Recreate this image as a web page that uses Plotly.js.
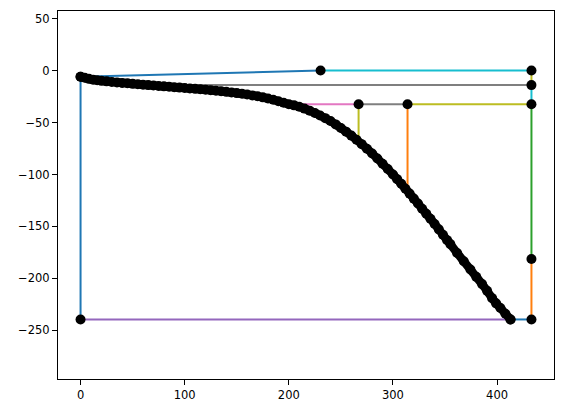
<!DOCTYPE html>
<html>
<head>
<meta charset="utf-8">
<script src="https://cdn.plot.ly/plotly-3.0.1.min.js"></script>
<style>html,body{margin:0;padding:0;background:#fff;}#chart{width:563px;height:413px;}</style>
</head>
<body>
<div id="chart"></div>
<script>
// Black curve
const curveX = [0,4,8,12,16,20,25,30,35,40,45,50,55,60,65,70,75,80,85,90,95,100,105,110,115,120,125,130,135,140,145,150,155,160,165,170,175,180,185,190,195,200,205,210,215,220,225,230,235,240,245,250,255,260,265,270,275,280,285,290,295,300,304,308,312,316,320,324,328,332,336,340,344,348,352,355.1,361.6,368,374.4,380,385.6,390.4,395.2,399,403.2,408,412.9];
const curveY = [-6,-7,-8,-8.8,-9.4,-9.9,-10.4,-10.9,-11.4,-11.9,-12.3,-12.8,-13.2,-13.6,-14,-14.4,-14.8,-15.2,-15.6,-16,-16.4,-16.8,-17.2,-17.6,-18,-18.5,-19,-19.5,-20,-20.5,-21.1,-21.7,-22.4,-23.1,-23.9,-24.8,-25.8,-26.9,-28.1,-29.5,-31,-32.4,-33.5,-34.8,-36.6,-38.6,-40.8,-43.2,-45.8,-48.6,-51.8,-55.2,-58.8,-62.6,-66.6,-70.8,-75.2,-79.8,-84.6,-89.6,-94.8,-100,-104.5,-109,-113.7,-118.4,-123.2,-128,-132.9,-137.8,-142.6,-147.6,-152.8,-158,-163.2,-167,-175.5,-183.5,-191.5,-198.5,-205.5,-212,-219,-224,-228.5,-234,-239.5];

// Marked points
const dotX = [230.5,433,433,433,314,267,433,433,0,412.9,0];
const dotY = [0,0,-14,-32.5,-32.5,-32.5,-181.4,-239.5,-239.5,-239.5,-6];

// Connecting segments: start and end coordinates
const segX1 = [0,230.5,433,433,433,433,314,267,267,314,433,433,433,412.9,0];
const segY1 = [-6,0,0,-14,-14,-32.5,-32.5,-32.5,-32.5,-32.5,-32.5,-181.4,-239.5,-239.5,-239.5];
const segX2 = [230.5,433,433,65,433,314,267,200,267,314,433,433,412.9,0,0];
const segY2 = [0,0,-14,-14,-32.5,-32.5,-32.5,-32.5,-68.3,-116,-181.4,-239.5,-239.5,-239.5,-6];
const segColor = ['#1f77b4','#17becf','#bcbd22','#7f7f7f','#17becf','#bcbd22','#7f7f7f','#e377c2','#bcbd22','#ff7f0e','#2ca02c','#ff7f0e','#1f77b4','#9467bd','#1f77b4'];

const traces = [];
for (let i = 0; i < segX1.length; i++) {
  traces.push({x:[segX1[i], segX2[i]], y:[segY1[i], segY2[i]], mode:'lines', type:'scatter',
    line:{color:segColor[i], width:2}, hoverinfo:'skip', showlegend:false});
}
traces.push({x:curveX, y:curveY, mode:'lines+markers', type:'scatter',
  line:{color:'#000', width:8.5, shape:'spline', smoothing:1}, marker:{color:'#000', size:10}, showlegend:false});
traces.push({x:dotX, y:dotY, mode:'markers', type:'scatter',
  marker:{color:'#000', size:10}, showlegend:false});

const axisCommon = {showgrid:false, zeroline:false, showline:true, mirror:true, linecolor:'#000', linewidth:1,
  ticks:'outside', ticklen:5, tickwidth:1, tickcolor:'#000',
  tickfont:{family:'DejaVu Sans', size:11.5, color:'#000'}};
const layout = {
  width:563, height:413,
  margin:{l:58, r:9, t:11, b:34, pad:0},
  paper_bgcolor:'#fff', plot_bgcolor:'#fff',
  xaxis:Object.assign({}, axisCommon, {range:[-21.65, 454.65], tickvals:[0,100,200,300,400]}),
  yaxis:Object.assign({}, axisCommon, {range:[-296.8, 57.3], tickvals:[50,0,-50,-100,-150,-200,-250]}),
  showlegend:false
};
Plotly.newPlot('chart', traces, layout, {staticPlot:true});
</script>
</body>
</html>
